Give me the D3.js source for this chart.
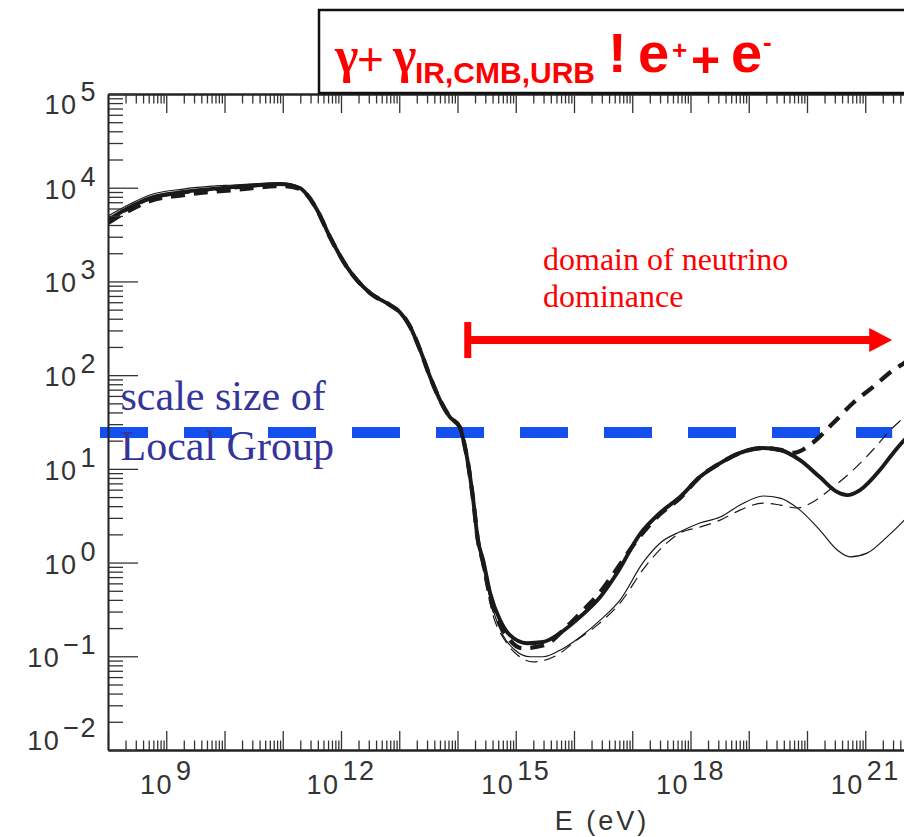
<!DOCTYPE html>
<html>
<head>
<meta charset="utf-8">
<script src="https://cdn.jsdelivr.net/npm/d3@7"></script>
<style>
  body { margin: 0; background: #fff; }
  svg { display: block; }
</style>
</head>
<body>
<svg id="chart" width="904" height="837"></svg>
<script>
// Attenuation length (Mpc) of photons vs energy, for four background models.
// Energies are given as log10(E / eV).

const thickSolidE = [8.00, 8.38, 8.72, 9.29, 10.15, 10.95, 11.30, 11.42, 11.59, 11.81,
  12.10, 12.50, 12.84, 13.01, 13.19, 13.36, 13.53, 13.70, 13.87, 14.04,
  14.09, 14.18, 14.27, 14.35, 14.44, 14.56, 14.73, 14.90, 15.19, 15.47,
  15.76, 16.10, 16.45, 16.74, 17.13, 17.48, 17.82, 18.16, 18.51, 18.85, 19.25,
  19.54, 19.88, 20.22, 20.52, 20.69, 20.91, 21.25, 21.48, 21.67, 21.94];
const thickSolidL = [4520, 6220, 7760, 8990, 10160, 10940, 9860, 8360, 5780, 2980,
  1430, 752, 560, 471, 326, 185, 95.5, 54.2, 35.7, 27.9,
  21.8, 11.5, 4.65, 1.74, 1.06, 0.473, 0.243, 0.168, 0.138, 0.142,
  0.177, 0.262, 0.429, 0.773, 2.00, 3.40, 5.00, 8.17, 11.5, 14.8, 16.7,
  15.9, 12.4, 8.17, 5.65, 5.25, 5.94, 9.70, 14.8, 20.3, 29.5];

const thickDashE = [8.00, 8.38, 8.72, 9.29, 10.15, 11.00, 11.30, 11.42, 11.59, 11.81,
  12.10, 12.50, 12.84, 13.01, 13.19, 13.36, 13.53, 13.70, 13.87, 14.04,
  14.09, 14.18, 14.27, 14.35, 14.44, 14.56, 14.73, 14.90, 15.11, 15.50,
  15.85, 16.16, 16.45, 16.70, 17.13, 17.48, 17.82, 18.16, 18.51, 18.85, 19.25,
  19.54, 19.76, 20.10, 20.45, 20.79, 21.13, 21.48, 21.67, 21.94];
const thickDashL = [4200, 5780, 7210, 8360, 9440, 10420, 9680, 8360, 5780, 2980,
  1430, 752, 560, 471, 326, 185, 95.5, 54.2, 35.7, 27.9,
  21.8, 11.5, 4.65, 1.74, 1.00, 0.429, 0.221, 0.149, 0.122, 0.132,
  0.200, 0.311, 0.484, 0.793, 1.90, 3.30, 4.88, 8.17, 11.5, 14.8, 16.7,
  15.9, 14.8, 19.0, 30.8, 50.4, 74.6, 113, 135, 177];

const thinSolidE = [8.00, 8.38, 8.72, 9.29, 10.15, 11.00, 11.30, 11.42, 11.59, 11.81,
  12.10, 12.50, 12.84, 13.01, 13.19, 13.36, 13.53, 13.70, 13.87, 14.04,
  14.09, 14.18, 14.27, 14.35, 14.47, 14.61, 14.78, 14.99, 15.25, 15.47,
  15.76, 16.10, 16.45, 16.79, 17.19, 17.48, 17.82, 18.16, 18.51, 18.85,
  19.25, 19.54, 19.88, 20.22, 20.52, 20.74, 21.03, 21.37, 21.67, 21.94];
const thinSolidL = [4990, 6700, 8360, 9680, 10690, 11220, 10160, 8360, 5780, 2980,
  1430, 752, 560, 471, 326, 185, 95.5, 54.2, 35.7, 27.9,
  21.8, 11.5, 4.65, 1.74, 0.736, 0.311, 0.168, 0.116, 0.0989, 0.0989,
  0.116, 0.160, 0.243, 0.398, 1.01, 1.62, 2.13, 2.64, 3.06, 4.11,
  5.13, 4.88, 3.63, 2.22, 1.36, 1.15, 1.26, 1.87, 2.84, 4.43];

const thinDashE = [8.00, 8.38, 8.72, 9.29, 10.15, 11.00, 11.30, 11.42, 11.59, 11.81,
  12.10, 12.50, 12.84, 13.01, 13.19, 13.36, 13.53, 13.70, 13.87, 14.04,
  14.09, 14.18, 14.27, 14.35, 14.47, 14.61, 14.81, 15.03, 15.30, 15.71,
  16.05, 16.40, 16.79, 17.22, 17.56, 17.82, 18.16, 18.51, 18.85, 19.25,
  19.54, 19.83, 20.10, 20.45, 20.79, 21.13, 21.43, 21.67, 21.94];
const thinDashL = [4300, 5900, 7400, 8600, 9700, 10600, 9860, 8360, 5780, 2980,
  1430, 752, 560, 471, 326, 185, 95.5, 54.2, 35.7, 27.9,
  21.8, 11.5, 4.65, 1.74, 0.684, 0.275, 0.149, 0.103, 0.0873, 0.103,
  0.149, 0.215, 0.370, 0.901, 1.55, 2.07, 2.39, 2.84, 3.63, 4.31,
  4.11, 3.82, 4.43, 6.40, 9.70, 15.9, 25.9, 35.7, 51.6];

// Axis decades and labelled exponents
const xDecades = d3.range(8, 23);
const yDecades = d3.range(-2, 6);
const xLabelExps = [9, 12, 15, 18, 21];
const yLabelExps = [-2, -1, 0, 1, 2, 3, 4, 5];

// Reference level and neutrino-dominance range
const localGroupSize = 24.4;
const neutrinoFromE = 1.5e14;
const neutrinoToE = 2.9e21;
const arrowLevel = 237;

const svg = d3.select("#chart");
const x = d3.scaleLog().domain([1e8, 1e22]).range([108, 923.5]);
const y = d3.scaleLog().domain([1e-2, 1e5]).range([750, 94]);
const [x0] = x.range();
const [yBot, yTop] = y.range();

const minorOf = decs => decs.slice(0, -1).flatMap(k => d3.range(2, 10).map(m => m * Math.pow(10, k)));
const majorOf = decs => decs.map(k => Math.pow(10, k));

svg.append("defs").append("clipPath").attr("id", "plotClip")
  .append("rect").attr("x", x0).attr("y", yTop).attr("width", 904 - x0).attr("height", yBot - yTop);

// Local Group scale (blue dashed)
svg.append("line")
  .attr("x1", x0 - 8).attr("x2", x(neutrinoToE))
  .attr("y1", y(localGroupSize)).attr("y2", y(localGroupSize))
  .attr("stroke", "#1450f0").attr("stroke-width", 11)
  .attr("stroke-dasharray", "48,36");

// Curves
const line = d3.line()
  .x(d => x(Math.pow(10, d[0])))
  .y(d => y(d[1]))
  .curve(d3.curveMonotoneX);

const series = [
  { e: thinSolidE, l: thinSolidL, w: 1.2, dash: null },
  { e: thinDashE, l: thinDashL, w: 1.2, dash: "12,7" },
  { e: thickSolidE, l: thickSolidL, w: 3.9, dash: null },
  { e: thickDashE, l: thickDashL, w: 4.3, dash: "14,9" }
];
const curves = svg.append("g").attr("clip-path", "url(#plotClip)");
series.forEach(s => {
  curves.append("path")
    .datum(d3.zip(s.e, s.l))
    .attr("d", line)
    .attr("fill", "none")
    .attr("stroke", "#1a1a1a")
    .attr("stroke-width", s.w)
    .attr("stroke-linejoin", "round")
    .attr("stroke-dasharray", s.dash);
});

// Neutrino dominance arrow
const ay = y(arrowLevel);
const ax1 = x(neutrinoFromE), ax2 = x(neutrinoToE);
svg.append("rect").attr("x", ax1 - 3.5).attr("y", ay - 18).attr("width", 7).attr("height", 36).attr("fill", "#ff0000");
svg.append("rect").attr("x", ax1).attr("y", ay - 4).attr("width", ax2 - 20 - ax1).attr("height", 8).attr("fill", "#ff0000");
svg.append("path")
  .attr("d", `M${ax2},${ay} L${ax2 - 23},${ay - 12} L${ax2 - 23},${ay + 12} Z`)
  .attr("fill", "#ff0000");

// Annotations
const serif = "'Liberation Serif', 'Times New Roman', serif";
svg.append("text").attr("x", 120.5).attr("y", 410).attr("font-family", serif).attr("font-size", 42)
  .attr("fill", "#34349a").text("scale size of");
svg.append("text").attr("x", 120.5).attr("y", 460).attr("font-family", serif).attr("font-size", 42)
  .attr("fill", "#34349a").text("Local Group");
svg.append("text").attr("x", 543).attr("y", 270).attr("font-family", serif).attr("font-size", 32)
  .attr("fill", "#ff0000").text("domain of neutrino");
svg.append("text").attr("x", 543).attr("y", 306.5).attr("font-family", serif).attr("font-size", 32)
  .attr("fill", "#ff0000").text("dominance");

// Axes
const axisG = svg.append("g");
function styleAxis(g, width) {
  g.select(".domain").attr("stroke", "#222").attr("stroke-width", width);
  g.selectAll(".tick line").attr("stroke", "#333").attr("stroke-width", 1.3);
  g.selectAll(".tick text").remove();
}
const xMaj = majorOf(xDecades), xMin = minorOf(xDecades);
const yMaj = majorOf(yDecades), yMin = minorOf(yDecades);

axisG.append("g").attr("transform", `translate(0,${yBot})`)
  .call(d3.axisBottom(x).tickValues(xMin).tickSize(-9.5).tickSizeOuter(0).tickFormat(""))
  .call(g => styleAxis(g, 2));
axisG.append("g").attr("transform", `translate(0,${yBot})`)
  .call(d3.axisBottom(x).tickValues(xMaj).tickSize(-19).tickSizeOuter(0).tickFormat(""))
  .call(g => styleAxis(g, 2));
axisG.append("g").attr("transform", `translate(0,${yTop})`)
  .call(d3.axisTop(x).tickValues(xMin).tickSize(-9.5).tickSizeOuter(0).tickFormat(""))
  .call(g => styleAxis(g, 2.2));
axisG.append("g").attr("transform", `translate(0,${yTop})`)
  .call(d3.axisTop(x).tickValues(xMaj).tickSize(-19).tickSizeOuter(0).tickFormat(""))
  .call(g => styleAxis(g, 2.2));
axisG.append("g").attr("transform", `translate(${x0},0)`)
  .call(d3.axisLeft(y).tickValues(yMin).tickSize(-15).tickSizeOuter(0).tickFormat(""))
  .call(g => styleAxis(g, 1.6));
axisG.append("g").attr("transform", `translate(${x0},0)`)
  .call(d3.axisLeft(y).tickValues(yMaj).tickSize(-30).tickSizeOuter(0).tickFormat(""))
  .call(g => styleAxis(g, 1.6));

const sans = "'Liberation Sans', Arial, sans-serif";
const expText = k => (k < 0 ? "\u2212" + Math.abs(k) : String(k));

xLabelExps.forEach(k => {
  const t = svg.append("text").attr("x", x(Math.pow(10, k))).attr("y", 794)
    .attr("text-anchor", "middle").attr("font-family", sans).attr("font-size", 27)
    .attr("letter-spacing", 1.5).attr("fill", "#333");
  t.append("tspan").text("10");
  t.append("tspan").attr("dx", 3).attr("dy", -14).text(expText(k));
});

yLabelExps.forEach(k => {
  const base = Math.min(Math.max(y(Math.pow(10, k)) + 11, yTop + 20), yBot);
  const t = svg.append("text").attr("x", 97).attr("y", base)
    .attr("text-anchor", "end").attr("font-family", sans).attr("font-size", 27)
    .attr("letter-spacing", 1.5).attr("fill", "#333");
  t.append("tspan").text("10");
  t.append("tspan").attr("dx", 3).attr("dy", -13).text(expText(k));
});

svg.append("text").attr("x", 602).attr("y", 830).attr("text-anchor", "middle")
  .attr("font-family", sans).attr("font-size", 27).attr("letter-spacing", 3)
  .attr("fill", "#333").text("E (eV)");

// Title box: pair production on IR / CMB / radio backgrounds
svg.append("rect").attr("x", 319).attr("y", 10).attr("width", 700).attr("height", 83)
  .attr("fill", "#fff").attr("stroke", "#111").attr("stroke-width", 2.5);
const red = "#ff0000";
const piece = (txt, px, py, family, size, weight) =>
  svg.append("text").attr("x", px).attr("y", py).attr("font-family", family)
    .attr("font-size", size).attr("font-weight", weight).attr("fill", red).text(txt);
piece("\u03b3", 335, 72, serif, 50, "bold");
piece("+", 357, 75, sans, 46, "normal");
piece("\u03b3", 393, 72, serif, 50, "bold");
piece("IR,CMB,URB", 415, 83, sans, 30, "bold");
piece("!", 608, 72, sans, 56, "bold");
piece("e", 638, 72, sans, 56, "bold");
piece("+", 672, 59, sans, 26, "bold");
piece("+", 691, 77, sans, 50, "bold");
piece("e", 731, 72, sans, 56, "bold");
piece("-", 763, 51, sans, 26, "bold");
</script>
</body>
</html>
